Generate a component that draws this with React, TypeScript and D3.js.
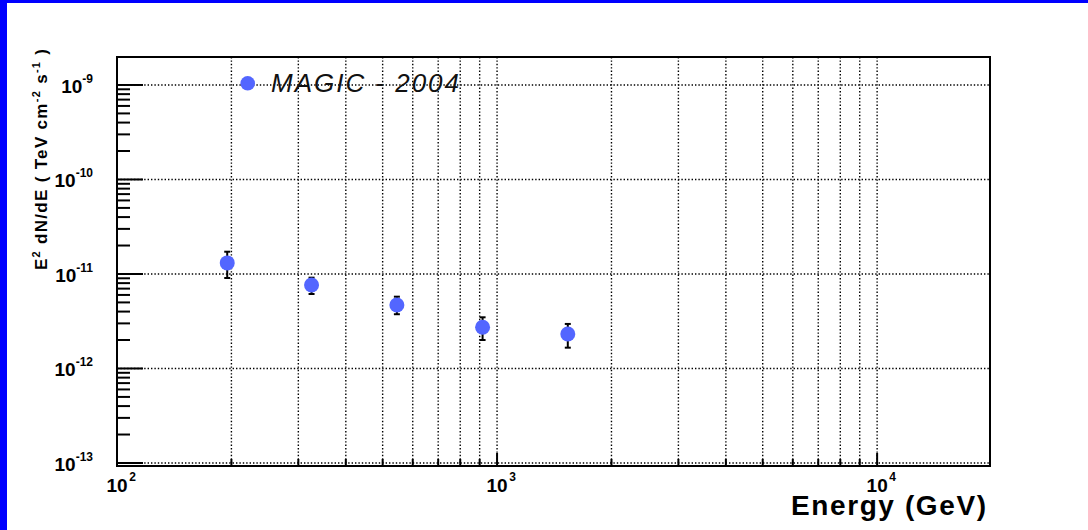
import React from "react";
import * as d3 from "d3";

// ---- data ----
const energyGeV = [195, 325, 545, 916, 1535];
const fluxE2 = [1.31e-11, 7.65e-12, 4.7e-12, 2.73e-12, 2.32e-12];
const fluxUpper = [1.72e-11, 9.14e-12, 5.75e-12, 3.48e-12, 2.96e-12];
const fluxLower = [9.07e-12, 6.14e-12, 3.75e-12, 2.0e-12, 1.66e-12];

const xTickExponents = [2, 3, 4];
const yTickExponents = [-13, -12, -11, -10, -9];
const minorMultipliers = [2, 3, 4, 5, 6, 7, 8, 9];

const legendLabel = "MAGIC - 2004";
const xTitle = "Energy (GeV)";

const W = 1088;
const H = 530;
const left = 117, right = 990, top = 57, bottom = 466;

export default function App() {
  const x = d3.scaleLog().domain([100, Math.pow(10, 4.297)]).range([left, right]);
  const y = d3.scaleLog().domain([Math.pow(10, -13.032), Math.pow(10, -8.704)]).range([bottom, top]);

  const [xd0, xd1] = x.domain();
  const [yd0, yd1] = y.domain();

  const xMajors = xTickExponents.map((e) => Math.pow(10, e));
  const xMinors: number[] = [];
  xTickExponents.forEach((e) =>
    minorMultipliers.forEach((m) => {
      const v = m * Math.pow(10, e);
      if (v > xd0 && v < xd1) xMinors.push(v);
    })
  );
  const xGrid = [...xMajors, ...xMinors.filter((v) => v < 1e4)];

  const yMajors = yTickExponents.map((e) => Math.pow(10, e));
  const yMinors: number[] = [];
  [-14, ...yTickExponents].forEach((e) =>
    minorMultipliers.forEach((m) => {
      const v = m * Math.pow(10, e);
      if (v > yd0 && v < yd1) yMinors.push(v);
    })
  );

  const dot = { stroke: "#000", strokeWidth: 1.4, strokeDasharray: "1.4 2" };
  const font = "'Liberation Sans', Arial, Helvetica, sans-serif";
  const markerColor = "#5366ff";

  return (
    <svg width={W} height={H} style={{ position: "absolute", left: 0, top: 0, background: "#fff" }} fontFamily={font}>
      <rect x={0} y={0} width={W} height={H} fill="#fff" />
      <rect x={0} y={0} width={W} height={3} fill="#0000ff" />
      <rect x={0} y={0} width={7} height={H} fill="#0000ff" />

      {/* grid */}
      {xGrid.map((v, i) => (
        <line key={"gx" + i} x1={x(v)} x2={x(v)} y1={top} y2={bottom} {...dot} />
      ))}
      {yMajors.map((v, i) => (
        <line key={"gy" + i} x1={left} x2={right} y1={y(v)} y2={y(v)} {...dot} />
      ))}

      {/* y ticks */}
      {yMajors.map((v, i) => (
        <line key={"ytM" + i} x1={left} x2={left + 26} y1={y(v)} y2={y(v)} stroke="#000" strokeWidth={2} />
      ))}
      {yMinors.map((v, i) => (
        <line key={"ytm" + i} x1={left} x2={left + 13} y1={y(v)} y2={y(v)} stroke="#000" strokeWidth={2} />
      ))}
      {/* x ticks */}
      {xMajors.map((v, i) => (
        <line key={"xtM" + i} x1={x(v)} x2={x(v)} y1={bottom} y2={bottom - 13} stroke="#000" strokeWidth={2} />
      ))}
      {xMinors.map((v, i) => (
        <line key={"xtm" + i} x1={x(v)} x2={x(v)} y1={bottom} y2={bottom - 7} stroke="#000" strokeWidth={2} />
      ))}

      {/* frame */}
      <rect x={left} y={top} width={right - left} height={bottom - top} fill="none" stroke="#000" strokeWidth={2} />

      {/* y tick labels */}
      {yTickExponents.map((e, i) => (
        <text key={"yl" + i} x={93} y={y(Math.pow(10, e)) + 7.7} textAnchor="end" fontWeight="bold" fontSize={19} fill="#000">
          10
          <tspan fontSize={12} dy={-10}>{String(e)}</tspan>
        </text>
      ))}
      {/* x tick labels */}
      {xTickExponents.map((e, i) => (
        <text key={"xl" + i} x={x(Math.pow(10, e)) - 10.5} y={492} fontWeight="bold" fontSize={19} fill="#000">
          10
          <tspan fontSize={12} dx={1.5} dy={-11}>{String(e)}</tspan>
        </text>
      ))}

      {/* axis titles */}
      <text x={986} y={515} textAnchor="end" fontWeight="bold" fontSize={28} textLength={195} lengthAdjust="spacing" fill="#000">
        {xTitle}
      </text>
      <text
        transform="translate(47,270) rotate(-90)"
        x={0}
        y={0}
        fontWeight="bold"
        fontSize={17}
        fill="#000"
        textLength={221}
        lengthAdjust="spacing"
      >
        E<tspan fontSize={11} dy={-7}>2</tspan>
        <tspan dy={7}> dN/dE ( TeV cm</tspan>
        <tspan fontSize={11} dy={-7}>-2</tspan>
        <tspan dy={7}> s</tspan>
        <tspan fontSize={11} dy={-7}>-1</tspan>
        <tspan dy={7}> )</tspan>
      </text>

      {/* error bars */}
      {energyGeV.map((e, i) => {
        const cx = x(e);
        return (
          <g key={"eb" + i} stroke="#000" strokeWidth={2}>
            <line x1={cx} x2={cx} y1={y(fluxUpper[i])} y2={y(fluxLower[i])} />
            <line x1={cx - 3} x2={cx + 3} y1={y(fluxUpper[i])} y2={y(fluxUpper[i])} />
            <line x1={cx - 3} x2={cx + 3} y1={y(fluxLower[i])} y2={y(fluxLower[i])} />
          </g>
        );
      })}
      {/* markers */}
      {energyGeV.map((e, i) => (
        <circle key={"pt" + i} cx={x(e)} cy={y(fluxE2[i])} r={7.5} fill={markerColor} />
      ))}

      {/* legend */}
      <circle cx={247.7} cy={83.3} r={7.3} fill={markerColor} />
      <text
        x={271}
        y={91.5}
        fontStyle="italic"
        fontSize={26}
        fill="#111"
        textLength={188}
        lengthAdjust="spacing"
      >
        {legendLabel}
      </text>
    </svg>
  );
}
